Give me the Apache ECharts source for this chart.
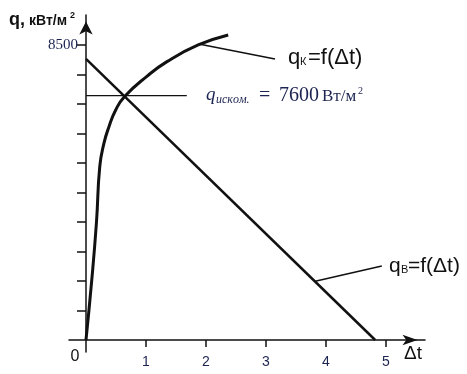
<!DOCTYPE html>
<html>
<head>
<meta charset="utf-8">
<script src="https://cdn.jsdelivr.net/npm/echarts@6/dist/echarts.min.js"></script>
<style>html,body{margin:0;padding:0;background:#fff}#c{width:467px;height:374px}</style>
</head>
<body>
<div id="c"></div>
<script>
// ---- data ----
const xTicks = [1, 2, 3, 4, 5];
const yTicks = [850, 1700, 2550, 3400, 4250, 5100, 5950, 6800, 7650, 8500];
const yLabelShown = [8500];
// q_k = f(Δt) curve
const qkDt = [0, 0.095, 0.175, 0.23, 0.30, 0.383, 0.495, 0.64, 1.01, 1.35, 1.87, 2.37];
const qkQ  = [0, 1700, 3400, 5000, 5670, 6145, 6626, 7010, 7590, 8020, 8500, 8790];
// q_B = f(Δt) line
const qbDt = [0, 4.82];
const qbQ  = [8100, 0];
// horizontal line of the sought q
const hDt = [0, 1.68];
const hQ  = [7040, 7040];
// leader lines to labels
const leadKDt = [1.9, 3.15];
const leadKQ  = [8520, 8096];
const leadBDt = [3.82, 4.93];
const leadBQ  = [1690, 2130];

const zip = (a, b) => a.map((v, i) => [v, b[i]]);
const ink = '#111';
const SANS = '"Liberation Sans", Arial, sans-serif';
const SERIF = '"Liberation Serif", "Times New Roman", serif';
const navy = '#1b2350';

const chart = echarts.init(document.getElementById('c'), null, {renderer: 'canvas'});
const lineSeries = (data, w, smooth) => ({
  type: 'line', data, showSymbol: false, symbol: 'none', smooth: smooth || false,
  lineStyle: {color: ink, width: w}, silent: true, clip: false, z: 3
});
function txt(text, x, y, font, color, align) {
  return {type: 'text', x, y, silent: true,
    style: {text, font, fill: color || ink, align: align || 'left', verticalAlign: 'middle'}};
}
chart.setOption({
  animation: false,
  backgroundColor: '#fff',
  grid: {left: 69, right: 42, top: 15, bottom: 22, containLabel: false, outerBoundsMode: 'none'},
  xAxis: {
    type: 'value', min: -0.283, max: 5.65, interval: 1,
    splitLine: {show: false},
    axisLine: {onZero: true, lineStyle: {color: ink, width: 1.5}, symbol: ['none', 'arrow'], symbolSize: [8, 15], symbolOffset: [0, -7.5]},
    axisTick: {show: true, length: 7, lineStyle: {color: ink, width: 1.5}, customValues: xTicks},
    axisLabel: {show: true, customValues: xTicks, margin: 3, fontFamily: SANS, fontSize: 14, color: navy,
      formatter: v => String(v)}
  },
  yAxis: {
    type: 'value', min: -346, max: 9364, interval: 850,
    splitLine: {show: false},
    axisLine: {onZero: true, lineStyle: {color: ink, width: 1.5}, symbol: ['none', 'arrow'], symbolSize: [10, 13], symbolOffset: [0, -6.5]},
    axisTick: {show: true, length: 9, lineStyle: {color: ink, width: 1.5}, customValues: yTicks},
    axisLabel: {show: true, customValues: yLabelShown, margin: -9, fontFamily: SERIF, fontSize: 15, color: navy,
      formatter: v => String(v)}
  },
  series: [
    lineSeries(zip(qkDt, qkQ), 3, 0.5),
    lineSeries(zip(qbDt, qbQ), 2.5),
    lineSeries(zip(hDt, hQ), 1.3),
    lineSeries(zip(leadKDt, leadKQ), 1.6),
    lineSeries(zip(leadBDt, leadBQ), 1.6)
  ],
  graphic: [
    txt('q,', 9, 20, 'bold 18px ' + SANS),
    txt('кВт/м', 29, 21, 'bold 14px ' + SANS),
    txt('2', 70, 16, 'bold 9px ' + SANS),
    txt('q', 206, 95, 'italic 19px ' + SERIF, navy),
    txt('искoм.', 216, 100, 'italic 12px ' + SERIF, navy),
    txt('=', 259, 96, '20px ' + SERIF, navy),
    txt('7600', 279, 96, '20px ' + SERIF, navy),
    txt('Вт/м', 322, 97, '17px ' + SERIF, navy),
    txt('2', 358, 91, '10px ' + SERIF, navy),
    txt('q', 288, 58, '22px ' + SANS),
    txt('К', 300, 62, '11px ' + SANS),
    txt('=f(Δt)', 308, 58, '22px ' + SANS),
    txt('q', 389, 266, '21px ' + SANS),
    txt('В', 401, 270, '11px ' + SANS),
    txt('=f(Δt)', 408, 266, '21px ' + SANS),
    txt('0', 75, 357, '16px ' + SANS, ink, 'center'),
    txt('Δt', 404, 354, '19px ' + SANS)
  ]
});
</script>
</body>
</html>
